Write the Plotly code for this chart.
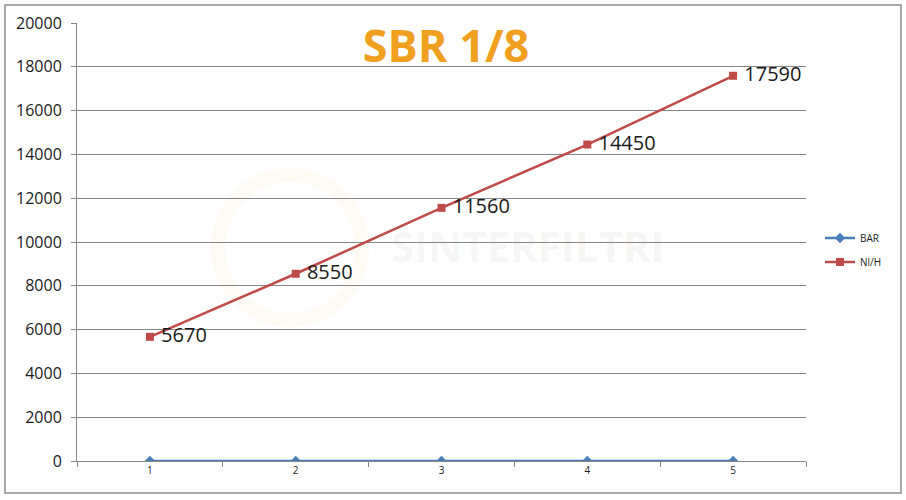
import plotly.graph_objects as go

categories = ["1", "2", "3", "4", "5"]
bar_values = [0.5, 1, 1.5, 2, 2.5]
nlh_values = [5670, 8550, 11560, 14450, 17590]
y_ticks = [0, 2000, 4000, 6000, 8000, 10000, 12000, 14000, 16000, 18000, 20000]

fig = go.Figure()
fig.add_trace(go.Scatter(
    x=categories, y=bar_values, name="BAR", mode="lines+markers",
    line=dict(color="#4A7EBB", width=2.5),
    marker=dict(symbol="diamond", size=8, color="#4A7EBB"),
    legend="legend", showlegend=True,
))
fig.add_trace(go.Scatter(
    x=categories, y=nlh_values, name="Nl/H", mode="lines+markers+text",
    line=dict(color="#BE4B48", width=2.5),
    marker=dict(symbol="square", size=8, color="#BE4B48"),
    text=["\u00a0" + str(v) for v in nlh_values], textposition="middle right",
    textfont=dict(family="Open Sans", size=20, color="#1a1a1a"),
    legend="legend2", showlegend=True,
))

# watermark
fig.add_shape(type="circle", xref="paper", yref="paper",
              x0=(218 - 77) / 729, x1=(362 - 77) / 729,
              y0=(461 - 320) / 438, y1=(461 - 175) / 438,
              line=dict(color="rgba(245,170,60,0.06)", width=14), layer="below")
fig.add_annotation(text="<b>SINTERFILTRI</b>", xref="paper", yref="paper",
                   x=(527 - 77) / 729, y=(461 - 245) / 438, showarrow=False,
                   font=dict(family="Open Sans", size=42, color="rgba(120,120,120,0.07)"))

# outer frame
fig.add_shape(type="rect", xref="paper", yref="paper",
              x0=(5 - 77) / 729, x1=(901 - 77) / 729,
              y0=(461 - 493) / 438, y1=(461 - 5) / 438,
              line=dict(color="#8C8C8C", width=1.5))

fig.update_layout(
    width=906, height=500,
    margin=dict(l=77, r=100, t=23, b=39),
    paper_bgcolor="white", plot_bgcolor="white",
    title=dict(text="<b>SBR 1/8</b>", x=446 / 906, xanchor="center", y=1 - 46 / 500, yanchor="middle",
               font=dict(family="Open Sans", size=45, color="#F0A01E")),
    font=dict(family="Open Sans", color="#1a1a1a"),
    xaxis=dict(type="category", range=[-0.5, 4.5], showgrid=False, showline=True,
               linecolor="#868686", linewidth=1, tickson="boundaries", ticks="outside",
               ticklen=5, tickcolor="#868686", tickfont=dict(size=10), zeroline=False),
    yaxis=dict(range=[0, 20000], tickvals=y_ticks, tickformat="d", showgrid=True,
               gridcolor="#868686", gridwidth=1, showline=True, linecolor="#868686",
               ticks="outside", ticklen=5, tickcolor="#868686", tickfont=dict(size=16),
               ticklabelstandoff=6, zeroline=False),
    legend=dict(x=(820 - 77) / 729, y=(461 - 238) / 438, xanchor="left", yanchor="middle",
                font=dict(size=10), bgcolor="rgba(0,0,0,0)"),
    legend2=dict(x=(820 - 77) / 729, y=(461 - 262) / 438, xanchor="left", yanchor="middle",
                 font=dict(size=10), bgcolor="rgba(0,0,0,0)"),
)

fig.write_html("out.html", config={"displayModeBar": False},
               post_script="document.body.style.margin='0px';")
